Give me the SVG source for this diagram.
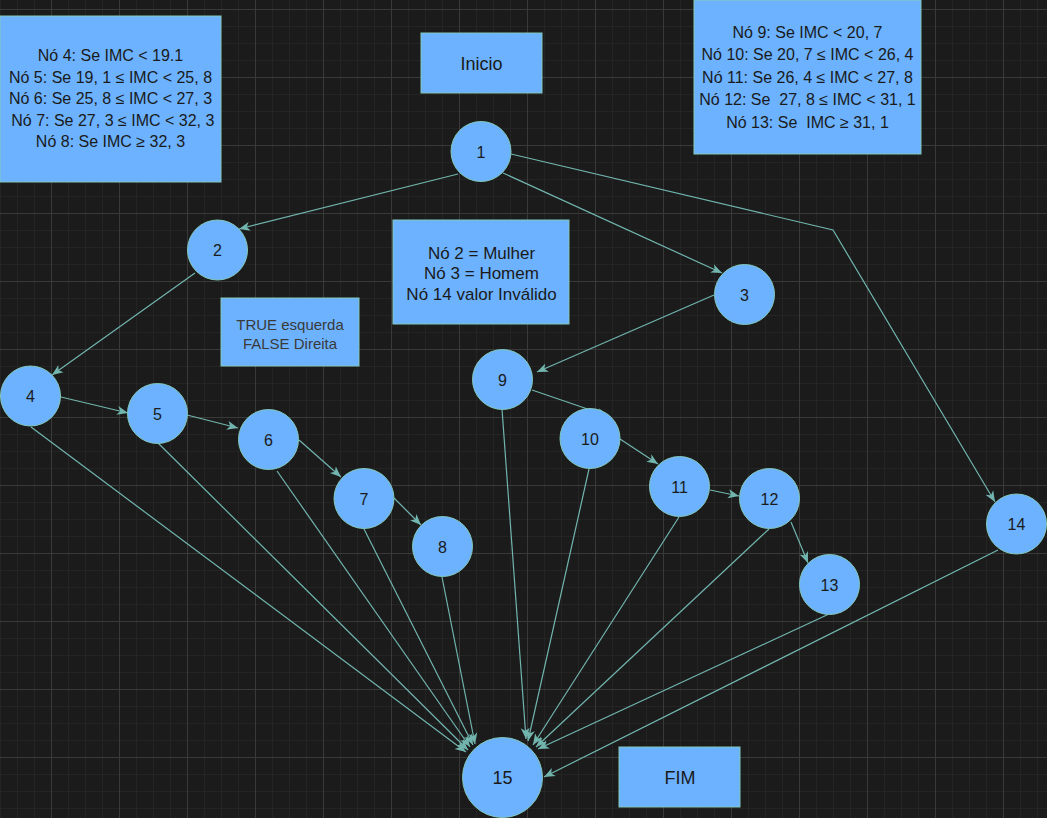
<svg xmlns="http://www.w3.org/2000/svg" width="1047" height="818" viewBox="0 0 1047 818">
<style>
.node circle{fill:#6cb2ff;stroke:#82c7b9;stroke-width:1}
.box rect{fill:#6cb2ff;stroke:#82c7b9;stroke-width:1}
text{font-family:"Liberation Sans",Arial,sans-serif;fill:#1a1a1a;text-anchor:middle}
.n{font-size:16px}
.big{font-size:18px}
.t16{font-size:16px}
.t17{font-size:17px}
.t15{font-size:15px;fill:#3a3a3a}
#edges path{fill:none;stroke:#71b5ae;stroke-width:1.2;marker-end:url(#arr)}
</style>
<defs>
<pattern id="minor" patternUnits="userSpaceOnUse" x="0" y="9" width="17" height="17">
<rect x="0" y="0" width="1" height="17" fill="#242424"/>
<rect x="0" y="0" width="17" height="1" fill="#242424"/>
</pattern>
<pattern id="major" patternUnits="userSpaceOnUse" x="51" y="9" width="68" height="68">
<rect x="0" y="0" width="1" height="68" fill="#393939"/>
<rect x="0" y="0" width="68" height="1" fill="#393939"/>
</pattern>
<marker id="arr" markerUnits="userSpaceOnUse" viewBox="-11 -5 12 10" refX="0" refY="0" markerWidth="12" markerHeight="10" orient="auto">
<path d="M0,0 L-11,-4.5 L-8,0 L-11,4.5 Z" fill="#71b5ae"/>
</marker>
</defs>
<rect width="1047" height="818" fill="#1b1b1b"/>
<rect width="1047" height="818" fill="url(#minor)"/>
<rect width="1047" height="818" fill="url(#major)"/>

<g id="edges">
<path d="M458,174 L239,229"/>
<path d="M503,173 L722,273"/>
<path d="M511,154 L833,230 L995,502"/>
<path d="M195,273 L52,375"/>
<path d="M714,295 L537,372"/>
<path d="M61,397 L128,413"/>
<path d="M187,415 L238,428"/>
<path d="M299,440 L341,477"/>
<path d="M394,498 L421,525"/>
<path d="M532,390 L608,416"/>
<path d="M620,439 L658,464"/>
<path d="M710,490 L739,496"/>
<path d="M791,522 L808,563"/>
<path d="M31,427 L466,752"/>
<path d="M158,443 L468,750"/>
<path d="M277,471 L470,747"/>
<path d="M364,529 L473,745"/>
<path d="M442,577 L475,744"/>
<path d="M502,409 L526,739"/>
<path d="M589,469 L528,741"/>
<path d="M679,517 L533,745"/>
<path d="M769,529 L536,747"/>
<path d="M829,614 L538,749"/>
<path d="M998,550 L544,777"/>
</g>

<g id="box-legend-left" class="box">
<rect x="0" y="16" width="221" height="166"/>
<text class="t16" x="110.5" y="61">Nó 4: Se IMC &lt; 19.1</text>
<text class="t16" x="110.5" y="82.5">Nó 5: Se 19, 1 ≤ IMC &lt; 25, 8</text>
<text class="t16" x="110.5" y="104">Nó 6: Se 25, 8 ≤ IMC &lt; 27, 3</text>
<text class="t16" x="112.8" y="125.5">Nó 7: Se 27, 3 ≤ IMC &lt; 32, 3</text>
<text class="t16" x="110.5" y="147">Nó 8: Se IMC ≥ 32, 3</text>
</g>

<g id="box-legend-right" class="box">
<rect x="694" y="0" width="227" height="154"/>
<text class="t16" x="807.5" y="38">Nó 9: Se IMC &lt; 20, 7</text>
<text class="t16" x="807.5" y="60">Nó 10: Se 20, 7 ≤ IMC &lt; 26, 4</text>
<text class="t16" x="807.5" y="82.5">Nó 11: Se 26, 4 ≤ IMC &lt; 27, 8</text>
<text class="t16" x="807.5" y="105" xml:space="preserve">Nó 12: Se  27, 8 ≤ IMC &lt; 31, 1</text>
<text class="t16" x="807.5" y="127.5" xml:space="preserve">Nó 13: Se  IMC ≥ 31, 1</text>
</g>

<g id="box-inicio" class="box">
<rect x="421" y="33" width="121" height="60"/>
<text class="big" x="481.5" y="70">Inicio</text>
</g>

<g id="box-generos" class="box">
<rect x="393" y="220" width="176" height="104"/>
<text class="t17" x="481.5" y="258.5">Nó 2 = Mulher</text>
<text class="t17" x="481.5" y="278.5">Nó 3 = Homem</text>
<text class="t17" x="481.5" y="299.5">Nó 14 valor Inválido</text>
</g>

<g id="box-truefalse" class="box">
<rect x="221" y="298" width="138" height="68"/>
<text class="t15" x="290" y="330">TRUE esquerda</text>
<text class="t15" x="290" y="348.5">FALSE Direita</text>
</g>

<g id="box-fim" class="box">
<rect x="619" y="747" width="121" height="60"/>
<text class="big" x="680" y="784">FIM</text>
</g>

<g id="node1" class="node"><circle cx="481" cy="151.5" r="30"/><text class="n" x="481" y="157.5">1</text></g>
<g id="node2" class="node"><circle cx="217.5" cy="250" r="30"/><text class="n" x="217.5" y="256">2</text></g>
<g id="node3" class="node"><circle cx="744.5" cy="294.5" r="30"/><text class="n" x="744.5" y="300.5">3</text></g>
<g id="node4" class="node"><circle cx="30.5" cy="396" r="30"/><text class="n" x="30.5" y="402">4</text></g>
<g id="node5" class="node"><circle cx="157.5" cy="413.5" r="30"/><text class="n" x="157.5" y="419.5">5</text></g>
<g id="node6" class="node"><circle cx="268.5" cy="439.5" r="30"/><text class="n" x="268.5" y="445.5">6</text></g>
<g id="node7" class="node"><circle cx="364" cy="498.5" r="30"/><text class="n" x="364" y="504.5">7</text></g>
<g id="node8" class="node"><circle cx="442.5" cy="546.5" r="30"/><text class="n" x="442.5" y="552.5">8</text></g>
<g id="node9" class="node"><circle cx="502.5" cy="379.5" r="30"/><text class="n" x="502.5" y="385.5">9</text></g>
<g id="node10" class="node"><circle cx="590" cy="438.5" r="30"/><text class="n" x="590" y="444.5">10</text></g>
<g id="node11" class="node"><circle cx="679.5" cy="486.5" r="30"/><text class="n" x="679.5" y="492.5">11</text></g>
<g id="node12" class="node"><circle cx="769.5" cy="498.5" r="30"/><text class="n" x="769.5" y="504.5">12</text></g>
<g id="node13" class="node"><circle cx="829.5" cy="584.5" r="30"/><text class="n" x="829.5" y="590.5">13</text></g>
<g id="node14" class="node"><circle cx="1016.5" cy="524" r="30"/><text class="n" x="1016.5" y="530">14</text></g>
<g id="node15" class="node"><circle cx="502.5" cy="777.5" r="40"/><text class="big" x="502.5" y="784">15</text></g>
</svg>
